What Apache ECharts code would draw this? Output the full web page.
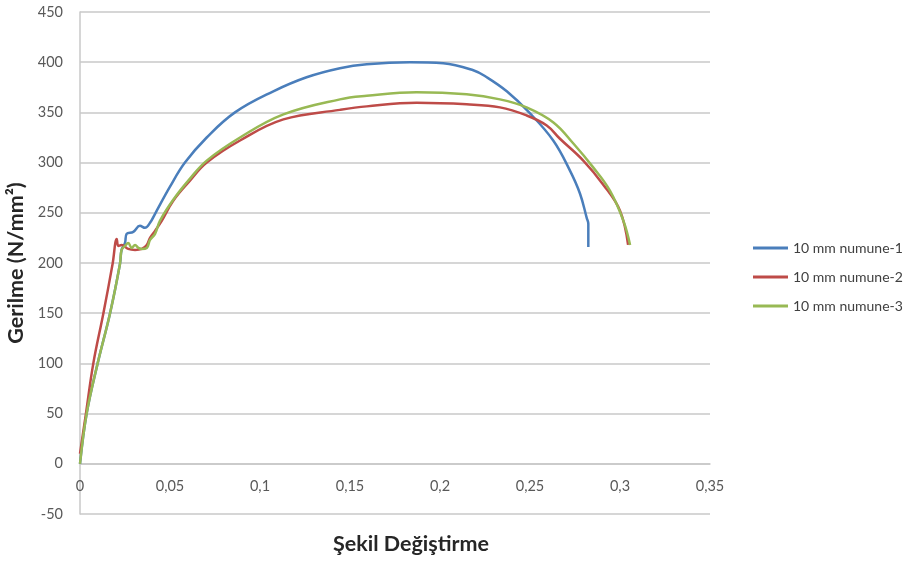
<!DOCTYPE html>
<html>
<head>
  <meta charset="utf-8">
  <title>Gerilme - Şekil Değiştirme</title>
  <script src="https://cdn.jsdelivr.net/npm/echarts@6/dist/echarts.min.js"></script>
  <style>
    html, body { margin: 0; padding: 0; background: #fff; }
    #main { width: 911px; height: 566px; }
  </style>
</head>
<body>
  <div id="main"></div>
  <script type="text/javascript">
    // eksen etiketleri
    var xTicks = [0, 0.05, 0.1, 0.15, 0.2, 0.25, 0.3, 0.35];
    var yTicks = [-50, 0, 50, 100, 150, 200, 250, 300, 350, 400, 450];
    var seriesNames = ['10 mm numune-1', '10 mm numune-2', '10 mm numune-3'];

    // numune-1 (mavi)
    var strain1 = [0, 0.0037, 0.0098, 0.0167, 0.0222, 0.0231, 0.025, 0.0259, 0.0296, 0.0333, 0.0361, 0.0389, 0.0417,
      0.05, 0.0583, 0.0704, 0.0861, 0.1074, 0.1259, 0.1444, 0.1593, 0.1833, 0.2018, 0.2185, 0.226, 0.2371,
      0.2495, 0.2629, 0.2722, 0.2778, 0.2815, 0.2824, 0.2824];
    var stress1 = [0, 50, 100, 150, 199, 213, 220, 229, 231, 237, 235, 240, 249,
      276, 300, 325, 350, 371, 385, 394, 398, 400, 399, 392, 385, 371,
      350, 322, 292, 269, 245, 239, 216];

    // numune-2 (kırmızı)
    var strain2 = [0, 0.0033, 0.0074, 0.013, 0.0181, 0.0204, 0.0213, 0.0231, 0.0268, 0.0306, 0.0343, 0.0371, 0.0389, 0.0417, 0.0454,
      0.0518, 0.0611, 0.0704, 0.0889, 0.113, 0.1444, 0.1593, 0.187, 0.2148, 0.2333, 0.2481, 0.2593, 0.2665,
      0.2796, 0.2907, 0.3, 0.3045];
    var stress2 = [10, 50, 100, 150, 199, 224, 217, 218, 214, 213, 214, 218, 225, 232, 242,
      262, 282, 300, 322, 343, 352.5, 356, 359.5, 358, 355, 347, 337, 324,
      302, 278, 252, 218];

    // numune-3 (yeşil)
    var strain3 = [0, 0.0037, 0.0098, 0.0167, 0.0222, 0.0231, 0.025, 0.0268, 0.0287, 0.0306, 0.0324, 0.0343, 0.0371, 0.0389, 0.0417, 0.0444,
      0.0518, 0.0611, 0.0704, 0.0889, 0.113, 0.1444, 0.1593, 0.187, 0.2148, 0.2333, 0.2481, 0.263, 0.2741,
      0.2852, 0.2944, 0.3019, 0.3056];
    var stress3 = [0, 50, 100, 150, 199, 213, 217, 220, 215, 218, 215, 214, 215, 223, 229, 242,
      263, 284, 302, 325, 348, 363, 366.5, 370, 368, 363, 355, 340, 319,
      295, 272, 242, 218];

    var colors = ['#4a7ebb', '#be4b48', '#98b954'];

    function pairs(xs, ys) {
      var out = [];
      for (var i = 0; i < xs.length; i++) {
        out.push([xs[i], ys[i]]);
      }
      return out;
    }

    var myChart = echarts.init(document.getElementById('main'));

    var fontFam = 'Lato, "Open Sans", sans-serif';

    function makeSeries(i, xs, ys) {
      return {
        name: seriesNames[i],
        type: 'line',
        data: pairs(xs, ys),
        smooth: 0.4,
        symbol: 'none',
        lineStyle: { width: 2.5, color: colors[i] }
      };
    }

    var option = {
      animation: false,
      color: colors,
      grid: {
        left: 80,
        right: 201,
        top: 12,
        bottom: 52,
        outerBoundsMode: 'none',
        containLabel: false
      },
      legend: {
        orient: 'vertical',
        left: 748,
        top: 236,
        itemGap: 15,
        icon: 'rect',
        itemWidth: 35,
        itemHeight: 3,
        textStyle: { fontFamily: fontFam, fontSize: 14, color: '#404040' },
        data: seriesNames
      },
      xAxis: {
        type: 'value',
        min: xTicks[0],
        max: xTicks[xTicks.length - 1],
        interval: 0.05,
        position: 'bottom',
        // eksen 0 çizgisinde (grid yüksekliğinin 1/10'u yukarıda)
        offset: -50.2,
        name: 'Şekil Değiştirme',
        nameLocation: 'middle',
        nameGap: 69,
        nameTextStyle: {
          fontFamily: fontFam, fontSize: 21.5, fontWeight: 'bold', color: '#262626',
          padding: [0, 0, 0, 32]
        },
        axisLine: { onZero: false, lineStyle: { color: '#c8c8c8', width: 1.5 } },
        axisTick: { show: false },
        splitLine: { show: false },
        axisLabel: {
          margin: 15,
          fontFamily: fontFam, fontSize: 14.5, color: '#595959',
          formatter: function (v) {
            return String(Math.round(v * 100) / 100).replace('.', ',');
          }
        }
      },
      yAxis: {
        type: 'value',
        min: yTicks[0],
        max: yTicks[yTicks.length - 1],
        interval: 50,
        name: 'Gerilme (N/mm²)',
        nameLocation: 'middle',
        nameGap: 45,
        nameTextStyle: { fontFamily: fontFam, fontSize: 21.5, fontWeight: 'bold', color: '#262626' },
        axisLine: { show: true, lineStyle: { color: '#c8c8c8', width: 1.5 } },
        axisTick: { show: false },
        splitLine: { show: true, lineStyle: { color: '#c8c8c8', width: 1.5 } },
        axisLabel: { margin: 17, fontFamily: fontFam, fontSize: 14.5, color: '#595959' }
      },
      series: [
        makeSeries(0, strain1, stress1),
        makeSeries(1, strain2, stress2),
        makeSeries(2, strain3, stress3)
      ]
    };

    myChart.setOption(option);
  </script>
</body>
</html>
